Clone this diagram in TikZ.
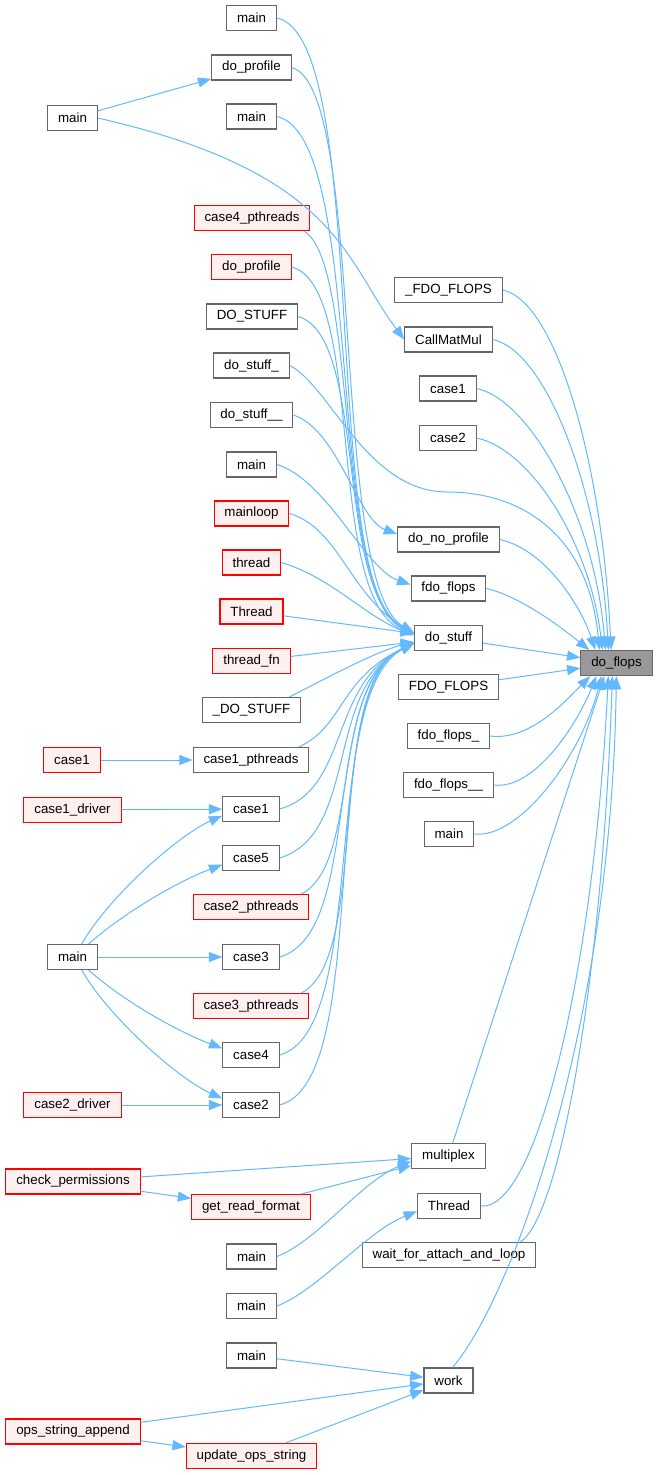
\documentclass[tikz,border=0pt]{standalone}
\usepackage{fontspec}
\setmainfont{Liberation Sans}
\usetikzlibrary{arrows.meta}
\definecolor{edgeblue}{HTML}{63B8FF}
\definecolor{boxgray}{HTML}{666666}
\definecolor{redfill}{HTML}{FFF0F0}
\definecolor{rootgray}{HTML}{999999}
\begin{document}
\begin{tikzpicture}[x=0.75pt, y=0.75pt,
  fn/.style={draw=boxgray, fill=white, line width=0.8pt, minimum height=18.75pt, inner xsep=7.8pt, inner ysep=0pt, font=\fontsize{10}{12}\selectfont},
  fnred/.style={fn, draw=red, fill=redfill},
  fnroot/.style={fn, fill=rootgray},
  call/.style={draw=edgeblue, line width=0.75pt, -{Triangle[length=10pt,width=7.5pt]}}]
\useasboundingbox (0,0) rectangle (657,-1475);
\node[fnroot] (flops) at (616.5,-663){do\_flops};
\node[fn] (fdoA) at (448.5,-290){\_FDO\_FLOPS};
\node[fn] (matmul) at (448.5,-339.5){CallMatMul};
\node[fn] (caseoneC) at (448,-388.5){case1};
\node[fn] (casetwoC) at (448,-438){case2};
\node[fn] (noprof) at (448.5,-539.5){do\_no\_profile};
\node[fn] (fdo) at (448.5,-588.5){fdo\_flops};
\node[fn] (dostuff) at (448.5,-638){do\_stuff};
\node[fn] (fdoB) at (448.5,-687){FDO\_FLOPS};
\node[fn] (fdoC) at (448.5,-736){fdo\_flops\_};
\node[fn] (fdoD) at (448.5,-785){fdo\_flops\_\_};
\node[fn] (mainC) at (449,-834){main};
\node[fn] (mplex) at (448.5,-1156){multiplex};
\node[fn] (threadC) at (449,-1206){Thread};
\node[fn] (wait) at (449,-1255){wait\_for\_attach\_and\_loop};
\node[fn] (work) at (448.5,-1380.5){work};
\draw[call] (fdoA.east) .. controls +(55,-12) and +(-8,180) .. ([xshift=23pt]flops.north west);
\draw[call] (matmul.east) .. controls +(55,-12) and +(-8,155) .. ([xshift=21pt]flops.north west);
\draw[call] (caseoneC.east) .. controls +(55,-12) and +(-10,130) .. ([xshift=18.75pt]flops.north west);
\draw[call] (casetwoC.east) .. controls +(55,-12) and +(-12,105) .. ([xshift=16.5pt]flops.north west);
\draw[call] (noprof.east) .. controls +(45,-10) and +(-15,45) .. ([xshift=11.25pt]flops.north west);
\draw[call] (fdo.east) .. controls +(35,-8) and +(-25,20) .. ([xshift=6.75pt]flops.north west);
\draw[call] (dostuff) -- (flops);
\draw[call] (fdoB) -- (flops);
\draw[call] (fdoC.east) .. controls +(40,-5) and +(-25,-25) .. ([xshift=7.5pt]flops.south west);
\draw[call] (fdoD.east) .. controls +(40,-5) and +(-20,-50) .. ([xshift=12pt]flops.south west);
\draw[call] (mainC.east) .. controls +(45,-5) and +(-20,-80) .. ([xshift=15.75pt]flops.south west);
\draw[call] (mplex) -- ([xshift=18pt]flops.south west);
\draw[call] (threadC.east) .. controls +(55,-5) and +(-15,-300) .. ([xshift=21pt]flops.south west);
\draw[call] ([xshift=-12pt]wait.north east) .. controls +(40,25) and +(-10,-300) .. ([xshift=24pt]flops.south west);
\draw[call] ([xshift=3pt]work.north) .. controls +(60,70) and +(-5,-350) .. ([xshift=27pt]flops.south west);
\node[fn] (mainB0) at (251.5,-18){main};
\node[fn] (doprof) at (251.5,-67.5){do\_profile};
\node[fn] (mainB1) at (251.5,-116.5){main};
\node[fnred] (casefourP) at (252,-218){case4\_pthreads};
\node[fnred] (doprofR) at (251.5,-267){do\_profile};
\node[fn] (DOSTUFF) at (252,-316.5){DO\_STUFF};
\node[fn] (dostuffA) at (251.5,-365.5){do\_stuff\_};
\node[fn] (dostuffB) at (251.5,-415){do\_stuff\_\_};
\node[fn] (mainB2) at (251.5,-464.5){main};
\node[fnred] (mainloop) at (251.5,-513.5){mainloop};
\node[fnred] (threadR) at (251.5,-562.5){thread};
\node[fnred] (ThreadR) at (251.5,-611.5){Thread};
\node[fnred] (threadfn) at (251.5,-661){thread\_fn};
\node[fn] (DOSTUFFu) at (251.5,-710){\_DO\_STUFF};
\node[fn] (caseoneP) at (251,-760){case1\_pthreads};
\node[fn] (caseoneB) at (251,-809){case1};
\node[fn] (casefive) at (251,-858){case5};
\node[fnred] (casetwoP) at (251,-907){case2\_pthreads};
\node[fn] (casethree) at (251,-957){case3};
\node[fnred] (casethreeP) at (251,-1006){case3\_pthreads};
\node[fn] (casefour) at (251,-1055){case4};
\node[fn] (casetwoB) at (251,-1105){case2};
\node[fnred] (readfmt) at (251,-1207){get\_read\_format};
\node[fn] (mainB3) at (251.5,-1256.5){main};
\node[fn] (mainB4) at (251.5,-1306){main};
\node[fn] (mainB5) at (251.5,-1355.5){main};
\node[fnred] (updops) at (251.5,-1456){update\_ops\_string};
\draw[call] (mainB0.east) .. controls +(95,-20) and +(-95,40) .. ([yshift=4pt]dostuff.west);
\draw[call] (doprof.east) .. controls +(75,-20) and +(-85,50) .. ([yshift=4pt]dostuff.west);
\draw[call] (mainB1.east) .. controls +(90,-20) and +(-90,45) .. ([yshift=4pt]dostuff.west);
\draw[call] ([xshift=-5pt]casefourP.south east) .. controls +(55,-30) and +(-80,40) .. ([yshift=3pt]dostuff.west);
\draw[call] (doprofR.east) .. controls +(75,-20) and +(-90,35) .. ([yshift=3pt]dostuff.west);
\draw[call] (DOSTUFF.east) .. controls +(70,-20) and +(-80,45) .. ([yshift=3pt]dostuff.west);
\draw[call] (dostuffA.east) .. controls +(40,-20) and +(-80,0) .. (447,-492) .. controls +(80,0) and +(-10,110) .. ([xshift=14.25pt]flops.north west);
\draw[call] (dostuffB.east) .. controls +(45,-15) and +(-40,15) .. ([yshift=4pt]noprof.west);
\draw[call] (mainB2.east) .. controls +(50,-15) and +(-45,15) .. ([yshift=3pt]fdo.west);
\draw[call] (mainloop.east) .. controls +(50,-15) and +(-65,40) .. ([yshift=3pt]dostuff.west);
\draw[call] (threadR.east) .. controls +(50,-15) and +(-50,20) .. ([yshift=2pt]dostuff.west);
\draw[call] (ThreadR) -- (dostuff);
\draw[call] (threadfn) -- (dostuff);
\draw[call] ([xshift=-9pt]DOSTUFFu.north east) .. controls +(30,15) and +(-40,-10) .. ([yshift=-3pt]dostuff.west);
\draw[call] ([xshift=-8pt]caseoneP.north east) .. controls +(45,20) and +(-75,-35) .. ([yshift=-4pt]dostuff.west);
\draw[call] (caseoneB.east) .. controls +(70,20) and +(-85,-40) .. ([yshift=-4pt]dostuff.west);
\draw[call] (casefive.east) .. controls +(80,25) and +(-90,-45) .. ([yshift=-4pt]dostuff.west);
\draw[call] ([xshift=-6pt]casetwoP.north east) .. controls +(60,30) and +(-85,-40) .. ([yshift=-4pt]dostuff.west);
\draw[call] (casethree.east) .. controls +(85,25) and +(-95,-45) .. ([yshift=-4pt]dostuff.west);
\draw[call] ([xshift=-6pt]casethreeP.north east) .. controls +(70,35) and +(-90,-40) .. ([yshift=-4pt]dostuff.west);
\draw[call] (casefour.east) .. controls +(90,25) and +(-95,-50) .. ([yshift=-4pt]dostuff.west);
\draw[call] (casetwoB.east) .. controls +(95,25) and +(-100,-45) .. ([yshift=-4pt]dostuff.west);
\draw[call] (mainB3.east) .. controls +(40,15) and +(-50,-20) .. ([yshift=-4pt]mplex.west);
\draw[call] (mainB4.east) .. controls +(40,15) and +(-50,-20) .. ([yshift=-4pt]threadC.west);
\draw[call] (mainB5) -- (work);
\draw[call] (readfmt) -- (mplex);
\draw[call] (updops) -- (work);
\node[fn] (mainA0) at (72.5,-118){main};
\node[fnred] (caseoneR) at (72,-760){case1};
\node[fnred] (caseonedrv) at (72.5,-810){case1\_driver};
\node[fn] (mainA1) at (72.5,-957){main};
\node[fnred] (casetwodrv) at (72.5,-1105){case2\_driver};
\node[fnred] (checkperm) at (73,-1181.5){check\_permissions};
\node[fnred] (opsappend) at (73,-1431.5){ops\_string\_append};
\draw[call] (mainA0) -- (doprof);
\draw[call] (mainA0.east) .. controls +(240,-55) and +(-60,80) .. (matmul.west);
\draw[call] (caseoneR) -- (caseoneP);
\draw[call] (caseonedrv) -- (caseoneB);
\draw[call] ([xshift=7pt]mainA1.north) .. controls +(25,45) and +(-45,-20) .. ([yshift=-5pt]caseoneB.west);
\draw[call] ([xshift=12pt]mainA1.north) .. controls +(40,35) and +(-40,-15) .. ([yshift=-5pt]casefive.west);
\draw[call] (mainA1) -- (casethree);
\draw[call] ([xshift=12pt]mainA1.south) .. controls +(40,-35) and +(-40,15) .. ([yshift=5pt]casefour.west);
\draw[call] ([xshift=7pt]mainA1.south) .. controls +(25,-45) and +(-45,20) .. ([yshift=5pt]casetwoB.west);
\draw[call] (casetwodrv) -- (casetwoB);
\draw[call] (checkperm) -- (mplex);
\draw[call] (checkperm) -- (readfmt);
\draw[call] (opsappend) -- (work);
\draw[call] (opsappend) -- (updops);
\end{tikzpicture}
\end{document}
